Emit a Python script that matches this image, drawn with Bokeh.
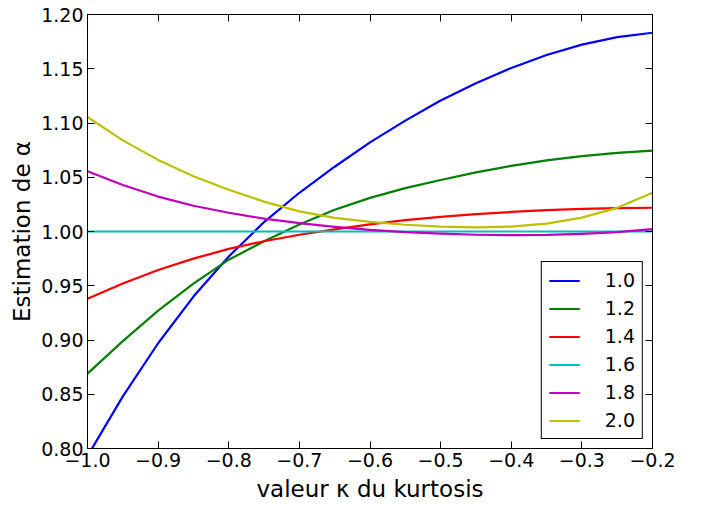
from bokeh.plotting import figure
from bokeh.models import Range1d, LinearAxis, FixedTicker, CustomJSTickFormatter, Legend, LegendItem
from bokeh.embed import file_html
from bokeh.resources import INLINE

kappa = [-1.0, -0.95, -0.9, -0.85, -0.8, -0.75, -0.7, -0.65, -0.6, -0.55, -0.5,
         -0.45, -0.4, -0.35, -0.3, -0.25, -0.2]
alpha_1_0 = [0.793, 0.848, 0.897, 0.940, 0.977, 1.0087, 1.0357, 1.0597, 1.0822, 1.1022, 1.1207,
             1.1367, 1.1507, 1.1627, 1.1722, 1.1792, 1.1832]
alpha_1_2 = [0.869, 0.899, 0.927, 0.952, 0.974, 0.991, 1.0065, 1.020, 1.031, 1.040, 1.0475,
             1.0545, 1.0605, 1.0655, 1.0695, 1.0725, 1.0745]
alpha_1_4 = [0.938, 0.952, 0.9645, 0.975, 0.984, 0.991, 0.997, 1.002, 1.0065, 1.0105, 1.0135,
             1.016, 1.018, 1.0197, 1.0208, 1.0215, 1.0219]
alpha_1_6 = [1.0, 1.0, 1.0, 1.0, 1.0, 1.0, 1.0, 1.0, 1.0, 1.0, 1.0,
             1.0, 1.0, 1.0, 1.0, 1.0, 1.0]
alpha_1_8 = [1.0556, 1.0428, 1.0322, 1.0237, 1.0173, 1.0118, 1.0077, 1.0043, 1.0015, 0.9995, 0.998,
             0.997, 0.9966, 0.9968, 0.9978, 0.9995, 1.0022]
alpha_2_0 = [1.1056, 1.084, 1.066, 1.051, 1.0385, 1.0275, 1.0185, 1.0125, 1.0088, 1.0062, 1.0045,
             1.0038, 1.0045, 1.0073, 1.0128, 1.0218, 1.0357]

series_labels = ["1.0", "1.2", "1.4", "1.6", "1.8", "2.0"]
series_values = [alpha_1_0, alpha_1_2, alpha_1_4, alpha_1_6, alpha_1_8, alpha_2_0]
colors = ["#0000ff", "#008000", "#ff0000", "#00bfbf", "#bf00bf", "#bfbf00"]

x_ticks = [-1.0, -0.9, -0.8, -0.7, -0.6, -0.5, -0.4, -0.3, -0.2]
y_ticks = [0.80, 0.85, 0.90, 0.95, 1.00, 1.05, 1.10, 1.15, 1.20]

FONT = "DejaVu Sans"

p = figure(width=700, height=504, output_backend="svg", toolbar_location=None,
           x_range=Range1d(-1.0, -0.2), y_range=Range1d(0.8, 1.2),
           min_border_left=87, min_border_right=48, min_border_top=14, min_border_bottom=55)
p.grid.visible = False
p.outline_line_color = "black"
p.outline_line_width = 1

items = []
for lab, vals, col in zip(series_labels, series_values, colors):
    r = p.line(kappa, vals, line_color=col, line_width=2.2, line_join="round")
    items.append(LegendItem(label=lab, renderers=[r]))

xfmt = CustomJSTickFormatter(code="return tick.toFixed(1).replace('-', '\u2212');")
yfmt = CustomJSTickFormatter(code="return tick.toFixed(2);")

for ax in p.xaxis:
    ax.ticker = FixedTicker(ticks=x_ticks)
    ax.formatter = xfmt
    ax.axis_label = "valeur \u03ba du kurtosis"
    ax.major_label_standoff = 4
    ax.axis_label_standoff = 6
for ax in p.yaxis:
    ax.ticker = FixedTicker(ticks=y_ticks)
    ax.formatter = yfmt
    ax.axis_label = "Estimation de \u03b1"
    ax.major_label_standoff = 4
    ax.axis_label_standoff = 3

for ax in list(p.xaxis) + list(p.yaxis):
    ax.major_tick_in = 7
    ax.major_tick_out = 0
    ax.minor_tick_line_color = None
    ax.axis_line_color = "black"
    ax.major_tick_line_color = "black"
    ax.major_label_text_font = FONT
    ax.major_label_text_font_size = "19px"
    ax.major_label_text_color = "black"
    ax.axis_label_text_font = FONT
    ax.axis_label_text_font_size = "23px"
    ax.axis_label_text_font_style = "normal"
    ax.axis_label_text_color = "black"

blank = CustomJSTickFormatter(code="return '';")
top = LinearAxis(ticker=FixedTicker(ticks=x_ticks), formatter=blank, major_tick_in=7, major_tick_out=0,
                 minor_tick_line_color=None, major_label_standoff=0, axis_line_color="black")
right = LinearAxis(ticker=FixedTicker(ticks=y_ticks), formatter=blank, major_tick_in=7, major_tick_out=0,
                   minor_tick_line_color=None, major_label_standoff=0, axis_line_color="black")
p.add_layout(top, "above")
p.add_layout(right, "right")

legend = Legend(items=items, location="bottom_right")
legend.label_text_font = FONT
legend.label_text_font_size = "19px"
legend.label_text_color = "black"
legend.border_line_color = "black"
legend.border_line_width = 1
legend.border_line_alpha = 1
legend.glyph_width = 31
legend.glyph_height = 21
legend.label_height = 21
legend.spacing = 6
legend.padding = 7
legend.label_standoff = 25
legend.margin = 9
legend.background_fill_alpha = 1
p.add_layout(legend)

open("out.html", "w").write(file_html(p, INLINE))
